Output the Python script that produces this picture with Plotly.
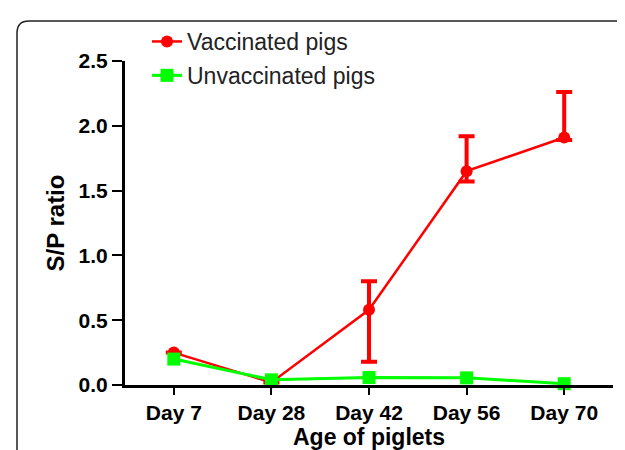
import plotly.graph_objects as go

days = ["Day 7", "Day 28", "Day 42", "Day 56", "Day 70"]
vacc = [0.25, 0.02, 0.58, 1.65, 1.91]
vacc_err_plus = [0.0, 0.0, 0.22, 0.27, 0.35]
vacc_err_minus = [0.0, 0.0, 0.40, 0.08, 0.02]
unvacc = [0.20, 0.04, 0.058, 0.055, 0.01]
y_ticks = [0.0, 0.5, 1.0, 1.5, 2.0, 2.5]
y_ticklabels = ["0.0", "0.5", "1.0", "1.5", "2.0", "2.5"]

W, H = 625, 450
L, R, T, B = 117, 20, 53, 73
pw, ph = W - L - R, H - T - B

def px(x):
    return (x - L) / pw

def py(y):
    return (H - B - y) / ph

fig = go.Figure()
fig.add_trace(go.Scatter(
    x=days, y=vacc, mode="lines+markers", name="Vaccinated pigs",
    legendgroup="a",
    line=dict(color="#FF0000", width=2.5),
    marker=dict(symbol="circle", size=12, color="#FF0000"),
    error_y=dict(type="data", symmetric=False, array=vacc_err_plus,
                 arrayminus=vacc_err_minus, color="#FF0000", thickness=4, width=8),
    cliponaxis=False,
))
fig.add_trace(go.Scatter(
    x=days, y=unvacc, mode="lines+markers", name="Unvaccinated pigs",
    legendgroup="b",
    line=dict(color="#00FF00", width=3),
    marker=dict(symbol="square", size=13, color="#00FF00"),
    cliponaxis=False,
))

# rounded frame
x0, x1 = px(9), px(622)
y0, y1 = py(470), py(13)
rx, ry = 12 / pw, 12 / ph
path = (f"M{x0},{y0} L{x0},{y1 - ry} Q{x0},{y1} {x0 + rx},{y1} "
        f"L{x1 - rx},{y1} Q{x1},{y1} {x1},{y1 - ry} L{x1},{y0}")
fig.add_shape(type="path", path=path, xref="paper", yref="paper",
              line=dict(color="#222222", width=1.5), layer="below")

font_b = "Liberation Sans, Arial, sans-serif"
fig.update_layout(
    width=W, height=H,
    margin=dict(l=L, r=R, t=T, b=B),
    paper_bgcolor="white", plot_bgcolor="white",
    showlegend=True,
    legend=dict(x=px(139), y=py(12), xanchor="left", yanchor="top",
                font=dict(family=font_b, size=23, color="#222222"),
                bgcolor="rgba(0,0,0,0)", tracegroupgap=1, itemwidth=30,
                traceorder="grouped"),
    xaxis=dict(
        type="category", range=[-0.5, 4.5],
        showline=True, linecolor="black", linewidth=3,
        ticks="outside", ticklen=7, tickwidth=2, tickcolor="black",
        showgrid=False, zeroline=False,
        tickfont=dict(family=font_b, size=21, color="black", weight="bold"),
        title=dict(text="Age of piglets", standoff=2,
                   font=dict(family=font_b, size=23, color="black", weight="bold")),
    ),
    yaxis=dict(
        range=[0, 2.5], tickvals=y_ticks, ticktext=y_ticklabels,
        showline=True, linecolor="black", linewidth=3,
        ticks="outside", ticklen=10, tickwidth=2, tickcolor="black",
        showgrid=False, zeroline=False,
        tickfont=dict(family=font_b, size=21, color="black", weight="bold"),
        title=dict(text="S/P ratio", standoff=8,
                   font=dict(family=font_b, size=24, color="black", weight="bold")),
    ),
)

fig.write_html("out.html")
